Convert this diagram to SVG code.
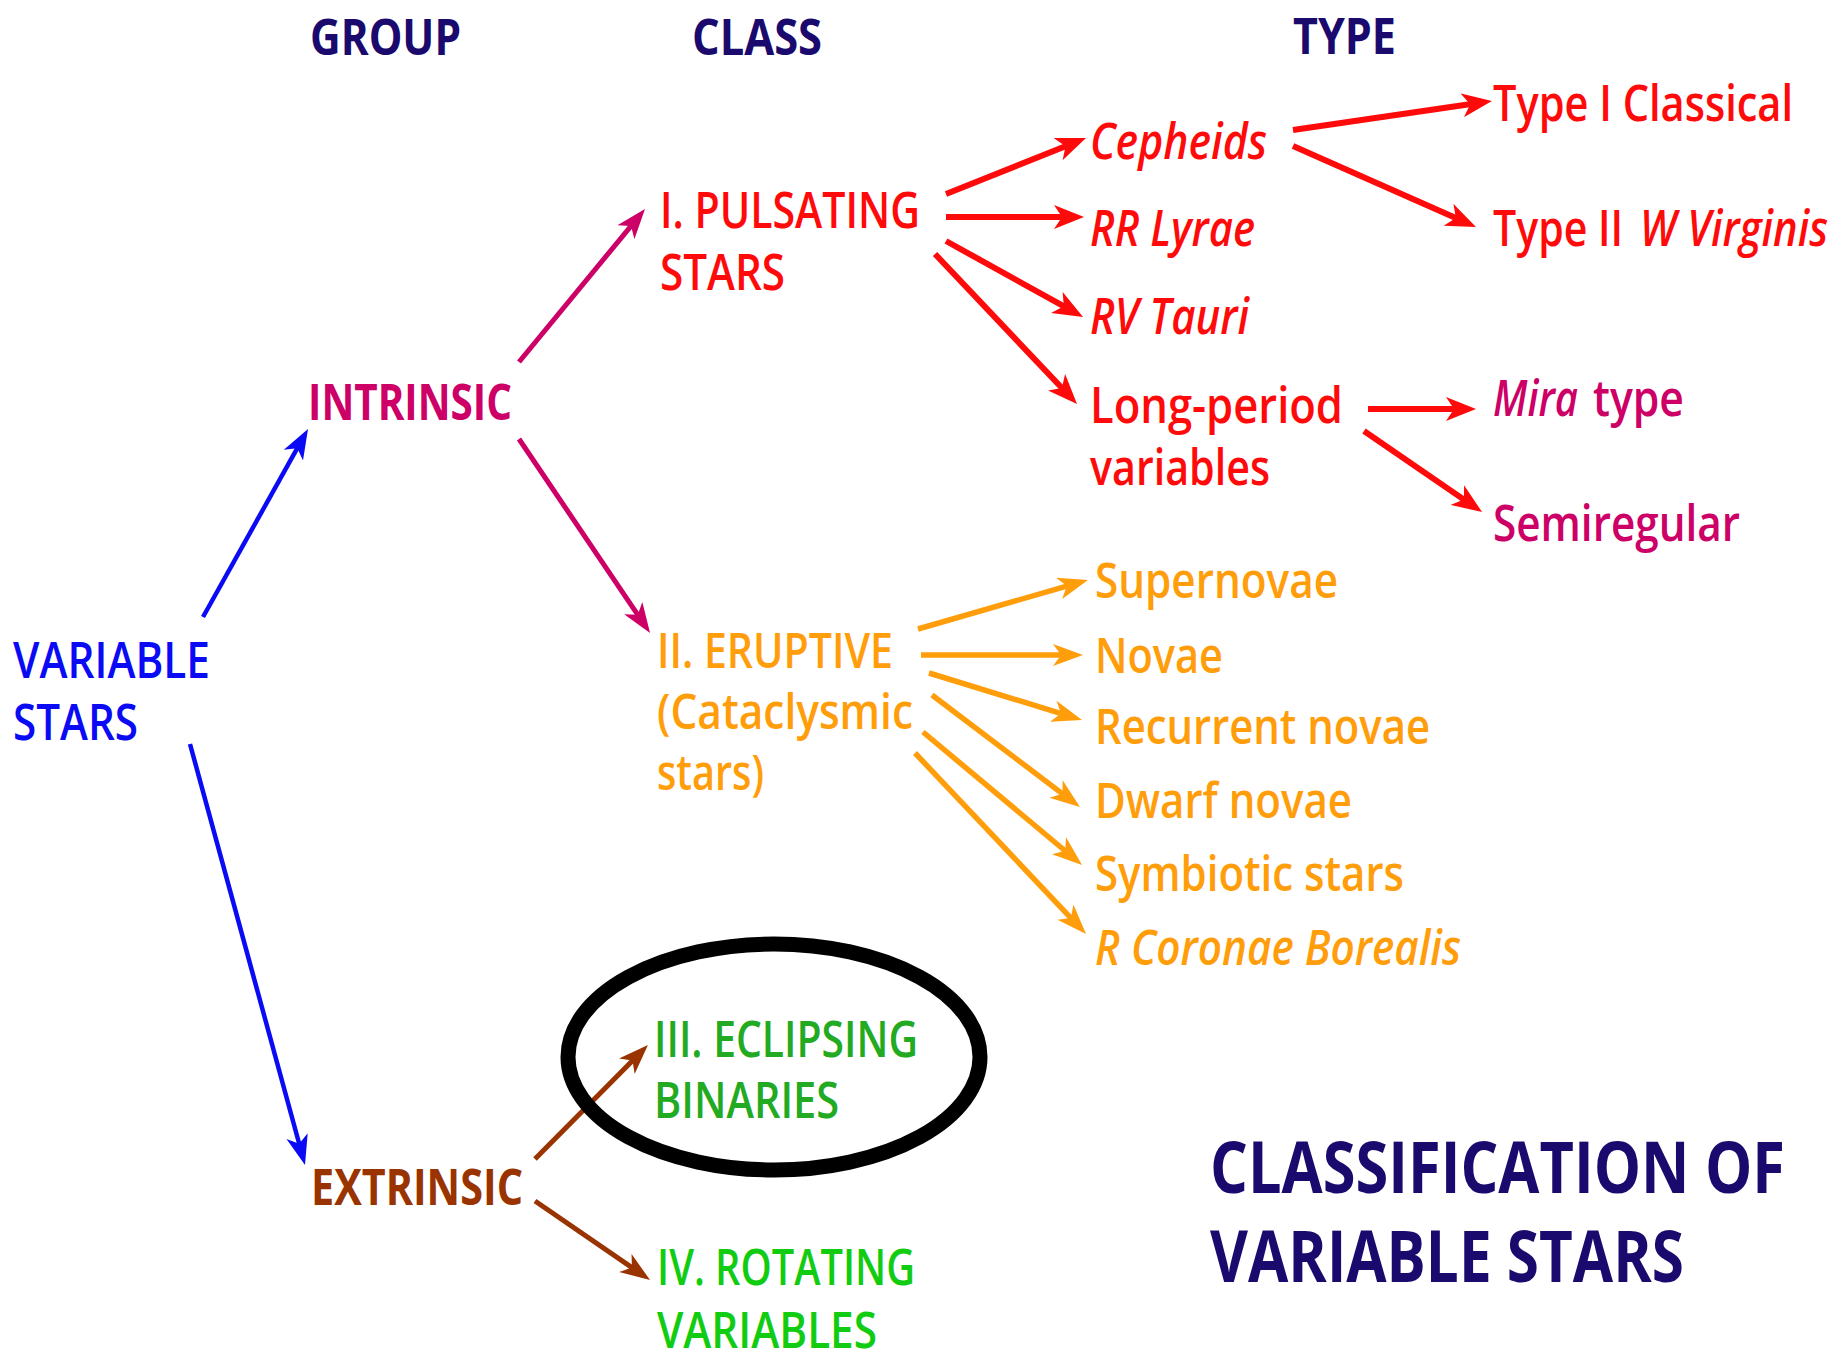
<svg xmlns="http://www.w3.org/2000/svg" width="1842" height="1351" viewBox="0 0 1842 1351">
<style>
text{font-family:"Open Sans","Liberation Sans",Arial,sans-serif;font-weight:600;font-size:51px;lengthAdjust:spacingAndGlyphs}
.hd{fill:#1b0a6e;font-weight:700}
.title{fill:#1b0a6e;font-weight:700;font-size:72px}
.blue{fill:#0a0af5}
.mag{fill:#cc0066}
.red{fill:#ff0a0a}
.org{fill:#ff9d0a;font-size:49px}
.brn{fill:#993300;font-weight:700}
.grn1{fill:#22aa22}
.grn2{fill:#11cc11}
.b{font-weight:700}
.it{font-style:italic}
.ln{fill:none;stroke-linecap:butt}
.lb{stroke:#0a0af5;stroke-width:4.5}
.lm{stroke:#cc0066;stroke-width:5}
.lr{stroke:#ff0a0a;stroke-width:6}
.lo{stroke:#ff9d0a;stroke-width:5.5}
.lw{stroke:#993300;stroke-width:5}
</style>
<defs>
<marker id="ab" markerUnits="userSpaceOnUse" viewBox="0 -12 30 24" markerWidth="30" markerHeight="24" refX="16" refY="0" orient="auto"><path d="M0,-11 L30,0 L0,11 L8,0 Z" fill="#0a0af5"/></marker>
<marker id="am" markerUnits="userSpaceOnUse" viewBox="0 -12 30 24" markerWidth="30" markerHeight="24" refX="16" refY="0" orient="auto"><path d="M0,-11 L30,0 L0,11 L8,0 Z" fill="#cc0066"/></marker>
<marker id="ar" markerUnits="userSpaceOnUse" viewBox="0 -12 30 24" markerWidth="30" markerHeight="24" refX="16" refY="0" orient="auto"><path d="M0,-12 L30,0 L0,12 L8,0 Z" fill="#ff0a0a"/></marker>
<marker id="ao" markerUnits="userSpaceOnUse" viewBox="0 -12 30 24" markerWidth="30" markerHeight="24" refX="16" refY="0" orient="auto"><path d="M0,-11 L30,0 L0,11 L8,0 Z" fill="#ff9d0a"/></marker>
<marker id="aw" markerUnits="userSpaceOnUse" viewBox="0 -12 30 24" markerWidth="30" markerHeight="24" refX="16" refY="0" orient="auto"><path d="M0,-11 L30,0 L0,11 L8,0 Z" fill="#993300"/></marker>
</defs>
<rect width="1842" height="1351" fill="#ffffff"/>

<g id="headers">
<text class="hd" x="310" y="55" textLength="151" lengthAdjust="spacingAndGlyphs">GROUP</text>
<text class="hd" x="692" y="55" textLength="130" lengthAdjust="spacingAndGlyphs">CLASS</text>
<text class="hd" x="1293" y="54" textLength="103" lengthAdjust="spacingAndGlyphs">TYPE</text>
</g>

<g id="connectors">
<line class="ln lb" x1="203" y1="617" x2="301.2" y2="441.2" marker-end="url(#ab)"/>
<line class="ln lb" x1="190" y1="744" x2="301.3" y2="1151.5" marker-end="url(#ab)"/>
<line class="ln lm" x1="519" y1="362" x2="636.1" y2="219.8" marker-end="url(#am)"/>
<line class="ln lm" x1="519" y1="439" x2="642.2" y2="621.4" marker-end="url(#am)"/>
<line class="ln lw" x1="535" y1="1159" x2="638.1" y2="1054.9" marker-end="url(#aw)"/>
<line class="ln lw" x1="535" y1="1201" x2="638.5" y2="1272.1" marker-end="url(#aw)"/>
<line class="ln lr" x1="946" y1="194" x2="1073" y2="143.2" marker-end="url(#ar)"/>
<line class="ln lr" x1="946" y1="217" x2="1070" y2="217" marker-end="url(#ar)"/>
<line class="ln lr" x1="946" y1="241" x2="1070.8" y2="310.2" marker-end="url(#ar)"/>
<line class="ln lr" x1="935" y1="254" x2="1067.4" y2="393.8" marker-end="url(#ar)"/>
<line class="ln lr" x1="1293" y1="130" x2="1478.1" y2="103" marker-end="url(#ar)"/>
<line class="ln lr" x1="1293" y1="146" x2="1463.2" y2="221.3" marker-end="url(#ar)"/>
<line class="ln lr" x1="1368" y1="409" x2="1462" y2="409" marker-end="url(#ar)"/>
<line class="ln lr" x1="1364" y1="431" x2="1470.5" y2="504.1" marker-end="url(#ar)"/>
<line class="ln lo" x1="918" y1="629" x2="1074.5" y2="583.9" marker-end="url(#ao)"/>
<line class="ln lo" x1="921" y1="655" x2="1069" y2="655" marker-end="url(#ao)"/>
<line class="ln lo" x1="929" y1="673" x2="1068.6" y2="715.9" marker-end="url(#ao)"/>
<line class="ln lo" x1="932" y1="695" x2="1068.8" y2="798.6" marker-end="url(#ao)"/>
<line class="ln lo" x1="923" y1="732" x2="1071.3" y2="856" marker-end="url(#ao)"/>
<line class="ln lo" x1="915" y1="753" x2="1076.4" y2="923.8" marker-end="url(#ao)"/>
</g>

<g id="variable-stars">
<text class="blue" x="13" y="678" textLength="197" lengthAdjust="spacingAndGlyphs">VARIABLE</text>
<text class="blue" x="13" y="740" textLength="125" lengthAdjust="spacingAndGlyphs">STARS</text>
</g>
<g id="intrinsic"><text class="mag b" x="308" y="420" textLength="204" lengthAdjust="spacingAndGlyphs">INTRINSIC</text></g>
<g id="extrinsic"><text class="brn" x="311" y="1205" textLength="212" lengthAdjust="spacingAndGlyphs">EXTRINSIC</text></g>

<g id="pulsating">
<text class="red" x="660" y="228" textLength="260" lengthAdjust="spacingAndGlyphs">I. PULSATING</text>
<text class="red" x="660" y="290" textLength="125" lengthAdjust="spacingAndGlyphs">STARS</text>
</g>
<g id="eruptive">
<text class="org" x="657" y="668" textLength="236" lengthAdjust="spacingAndGlyphs">II. ERUPTIVE</text>
<text class="org" x="657" y="729" textLength="256" lengthAdjust="spacingAndGlyphs">(Cataclysmic</text>
<text class="org" x="657" y="790" textLength="107" lengthAdjust="spacingAndGlyphs">stars)</text>
</g>
<g id="eclipsing">
<ellipse cx="774" cy="1057" rx="206" ry="113" fill="none" stroke="#000000" stroke-width="15"/>
<text class="grn1" x="654" y="1057" textLength="264" lengthAdjust="spacingAndGlyphs">III. ECLIPSING</text>
<text class="grn1" x="654" y="1118" textLength="185" lengthAdjust="spacingAndGlyphs">BINARIES</text>
</g>
<g id="rotating">
<text class="grn2" x="657" y="1285" textLength="258" lengthAdjust="spacingAndGlyphs">IV. ROTATING</text>
<text class="grn2" x="657" y="1348" textLength="220" lengthAdjust="spacingAndGlyphs">VARIABLES</text>
</g>

<g id="cepheids"><text class="red it" x="1090" y="159" textLength="177" lengthAdjust="spacingAndGlyphs">Cepheids</text></g>
<g id="rr-lyrae"><text class="red it" x="1090" y="246" textLength="165" lengthAdjust="spacingAndGlyphs">RR Lyrae</text></g>
<g id="rv-tauri"><text class="red it" x="1090" y="334" textLength="159" lengthAdjust="spacingAndGlyphs">RV Tauri</text></g>
<g id="long-period">
<text class="red" x="1090" y="423" textLength="253" lengthAdjust="spacingAndGlyphs">Long-period</text>
<text class="red" x="1090" y="485" textLength="180" lengthAdjust="spacingAndGlyphs">variables</text>
</g>
<g id="type-i"><text class="red" x="1493" y="121" textLength="300" lengthAdjust="spacingAndGlyphs">Type I Classical</text></g>
<g id="type-ii">
<text class="red" x="1493" y="246" textLength="130" lengthAdjust="spacingAndGlyphs">Type II</text>
<text class="red it" x="1640" y="246" textLength="188" lengthAdjust="spacingAndGlyphs">W Virginis</text>
</g>
<g id="mira">
<text class="mag it" x="1493" y="416" textLength="85" lengthAdjust="spacingAndGlyphs">Mira</text>
<text class="mag" x="1593" y="416" textLength="91" lengthAdjust="spacingAndGlyphs">type</text>
</g>
<g id="semiregular"><text class="mag" x="1493" y="541" textLength="247" lengthAdjust="spacingAndGlyphs">Semiregular</text></g>

<g id="supernovae"><text class="org" x="1095" y="598" textLength="243" lengthAdjust="spacingAndGlyphs">Supernovae</text></g>
<g id="novae"><text class="org" x="1095" y="673" textLength="128" lengthAdjust="spacingAndGlyphs">Novae</text></g>
<g id="recurrent"><text class="org" x="1095" y="744" textLength="335" lengthAdjust="spacingAndGlyphs">Recurrent novae</text></g>
<g id="dwarf"><text class="org" x="1095" y="818" textLength="257" lengthAdjust="spacingAndGlyphs">Dwarf novae</text></g>
<g id="symbiotic"><text class="org" x="1095" y="891" textLength="309" lengthAdjust="spacingAndGlyphs">Symbiotic stars</text></g>
<g id="rcb"><text class="org it" x="1095" y="965" textLength="366" lengthAdjust="spacingAndGlyphs">R Coronae Borealis</text></g>

<g id="title">
<text class="title" x="1210" y="1193" textLength="575" lengthAdjust="spacingAndGlyphs">CLASSIFICATION OF</text>
<text class="title" x="1210" y="1282" textLength="474" lengthAdjust="spacingAndGlyphs">VARIABLE STARS</text>
</g>
</svg>
